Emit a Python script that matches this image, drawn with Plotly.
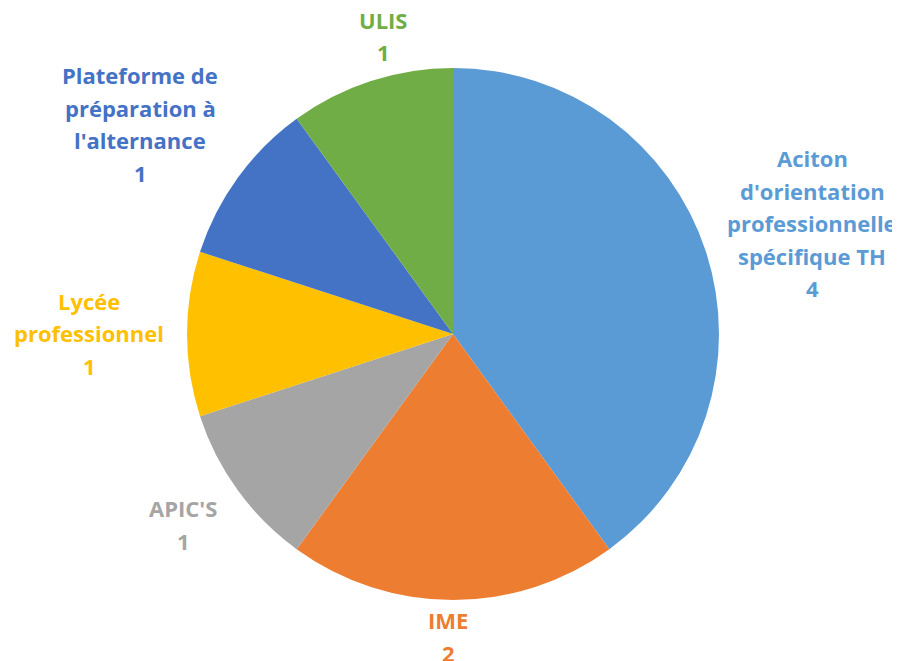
import plotly.graph_objects as go

categories = ["Aciton d'orientation professionnelle spécifique TH", "IME", "APIC'S",
              "Lycée professionnel", "Plateforme de préparation à l'alternance", "ULIS"]
values = [4, 2, 1, 1, 1, 1]
colors = ["#5B9BD5", "#ED7D31", "#A5A5A5", "#FFC000", "#4472C4", "#70AD47"]
label_lines = [
    ["Aciton", "d'orientation", "professionnelle", "spécifique TH"],
    ["IME"],
    ["APIC'S"],
    ["Lycée", "professionnel"],
    ["Plateforme de", "préparation à", "l'alternance"],
    ["ULIS"],
]
# label anchor (pixel center of first line, in screenshot pixels) for each slice
label_pos = [(812, 158), (448, 620), (183, 508), (89, 301), (140, 75), (383, 20)]

OFF = 8  # page body margin
W, H = 900, 661
cx, cy, r = 453 - OFF, 334 - OFF, 266
fig = go.Figure(go.Pie(
    labels=categories, values=values, sort=False, direction="clockwise", rotation=0,
    marker=dict(colors=colors, line=dict(width=0)),
    textinfo="none", hoverinfo="label+value", showlegend=False,
    domain=dict(x=[(cx - r) / W, (cx + r) / W], y=[1 - (cy + r) / H, 1 - (cy - r) / H]),
))

LS = 32.5
for lines, v, c, (px, py) in zip(label_lines, values, colors, label_pos):
    for i, t in enumerate(lines + [str(v)]):
        fig.add_annotation(
            x=(px - OFF) / W, y=1 - (py - OFF + i * LS) / H, xref="paper", yref="paper",
            text=t, showarrow=False, xanchor="center", yanchor="middle",
            font=dict(family="Open Sans", size=22, color=c, weight="bold"),
        )

fig.update_layout(width=W, height=H, margin=dict(l=0, r=0, t=0, b=0),
                  paper_bgcolor="white", plot_bgcolor="white")
fig.write_html("out.html")
